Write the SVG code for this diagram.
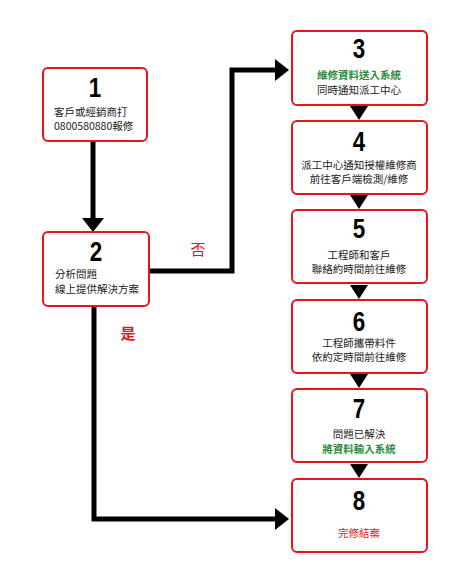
<svg xmlns="http://www.w3.org/2000/svg" width="450" height="567" viewBox="0 0 450 567">
<style>
.box{fill:#fff;stroke:#e8141b;stroke-width:2}
.num{font-family:"Liberation Sans",Arial,sans-serif;font-weight:bold;font-size:28px;fill:#000;text-anchor:middle}
.t{font-family:"Noto Sans CJK TC","Noto Sans CJK SC",sans-serif;font-size:10.5px;fill:#222}
.c{text-anchor:middle}
.g{fill:#2e8b3e;font-weight:bold}
.r{fill:#e8141b}
.lbl{font-family:"Noto Sans CJK TC","Noto Sans CJK SC",sans-serif;font-size:15px;fill:#e8141b;text-anchor:middle}
.ln{fill:none;stroke:#000;stroke-width:5}
.ah{fill:#000}
</style>
<rect width="450" height="567" fill="#fff"/>
<g id="connectors">
<path class="ln" d="M93,141 V220"/>
<polygon class="ah" points="82,218 104,218 93,232"/>
<path class="ln" d="M149,271 H232 V70 H277"/>
<polygon class="ah" points="275,59 289,70 275,81"/>
<path class="ln" d="M94,306 V519 H277"/>
<polygon class="ah" points="275,508 289,519 275,530"/>
<polygon class="ah" points="350,106 368,106 359,120"/>
<polygon class="ah" points="350,195 368,195 359,209"/>
<polygon class="ah" points="350,285 368,285 359,299"/>
<polygon class="ah" points="350,374 368,374 359,388"/>
<polygon class="ah" points="350,464 368,464 359,478"/>
</g>
<g id="node1">
<rect class="box" x="43" y="68" width="104" height="73" rx="5"/>
<text class="num" transform="translate(95,97) scale(0.8,1)">1</text>
<text class="t" x="54" y="116">客戶或經銷商打</text>
<text class="t" x="54" y="130">0800580880報修</text>
</g>
<g id="node2">
<rect class="box" x="43" y="232" width="106" height="74" rx="5"/>
<text class="num" transform="translate(96,261) scale(0.8,1)">2</text>
<text class="t" x="55" y="278">分析問題</text>
<text class="t" x="55" y="293">線上提供解決方案</text>
</g>
<g id="node3">
<rect class="box" x="292" y="31" width="135" height="74" rx="5"/>
<text class="num" transform="translate(359,58) scale(0.8,1)">3</text>
<text class="t c g" x="359" y="79">維修資料送入系統</text>
<text class="t c" x="359" y="94">同時通知派工中心</text>
</g>
<g id="node4">
<rect class="box" x="292" y="121" width="135" height="73" rx="5"/>
<text class="num" transform="translate(359,151) scale(0.8,1)">4</text>
<text class="t c" x="359" y="169">派工中心通知授權維修商</text>
<text class="t c" x="359" y="183">前往客戶端檢測/維修</text>
</g>
<g id="node5">
<rect class="box" x="292" y="210" width="135" height="73" rx="5"/>
<text class="num" transform="translate(359,238) scale(0.8,1)">5</text>
<text class="t c" x="359" y="259">工程師和客戶</text>
<text class="t c" x="359" y="273">聯絡約時間前往維修</text>
</g>
<g id="node6">
<rect class="box" x="292" y="300" width="135" height="73" rx="5"/>
<text class="num" transform="translate(359,331) scale(0.8,1)">6</text>
<text class="t c" x="359" y="347">工程師攜帶料件</text>
<text class="t c" x="359" y="361">依約定時間前往維修</text>
</g>
<g id="node7">
<rect class="box" x="292" y="389" width="135" height="73" rx="5"/>
<text class="num" transform="translate(359,418) scale(0.8,1)">7</text>
<text class="t c" x="359" y="438">問題已解決</text>
<text class="t c g" x="359" y="453">將資料輸入系統</text>
</g>
<g id="node8">
<rect class="box" x="292" y="479" width="135" height="73" rx="5"/>
<text class="num" transform="translate(359,510) scale(0.8,1)">8</text>
<text class="t c r" x="359" y="537">完修結案</text>
</g>
<text class="lbl" x="198" y="255">否</text>
<text class="lbl" x="128" y="339" font-weight="bold">是</text>
</svg>
